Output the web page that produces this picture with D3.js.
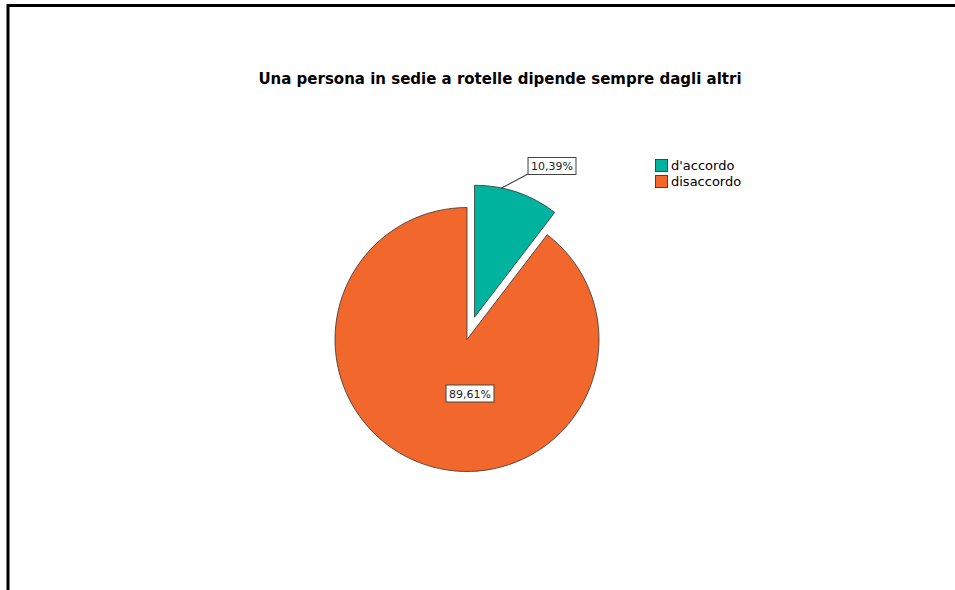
<!DOCTYPE html>
<html><head><meta charset="utf-8">
<script src="https://cdn.jsdelivr.net/npm/d3@7"></script>
<style>body{margin:0;background:#fff}svg{display:block}</style>
</head><body>
<script>
const categories = ["d'accordo", "disaccordo"];
const values = [10.39, 89.61];
const labels = ["10,39%", "89,61%"];
const colors = ["#00b39e", "#f2672b"];
const title = "Una persona in sedie a rotelle dipende sempre dagli altri";

const W = 955, H = 590;
const svg = d3.select("body").append("svg").attr("width", W).attr("height", H);
const font = "DejaVu Sans, Verdana, sans-serif";

// frame
svg.append("path").attr("d", `M8,${H} L8,5.5 L${W},5.5`).attr("fill", "none").attr("stroke", "#000").attr("stroke-width", 3);

svg.append("text").attr("x", 500).attr("y", 84).attr("text-anchor", "middle")
  .attr("font-family", font).attr("font-weight", "bold").attr("font-size", 15)
  .attr("fill", "#000").text(title);

const cx = 467, cy = 339.5, r = 132, explode = 23.5;
const pie = d3.pie().sort(null).value(d => d)(values);
const arc = d3.arc().innerRadius(0).outerRadius(r);
const g = svg.append("g").attr("transform", `translate(${cx},${cy})`);

pie.forEach((p, i) => {
  const mid = (p.startAngle + p.endAngle) / 2;
  const off = i === 0 ? explode : 0;
  const dx = Math.sin(mid) * off, dy = -Math.cos(mid) * off;
  g.append("path").attr("d", arc(p)).attr("transform", `translate(${dx},${dy})`)
    .attr("fill", colors[i]).attr("stroke", "#333").attr("stroke-width", 0.8);
});

// labels
function boxLabel(x, y, t) {
  const lg = svg.append("g");
  const tx = lg.append("text").attr("x", x).attr("y", y + 4).attr("text-anchor", "middle")
    .attr("font-family", font).attr("font-size", 11).attr("fill", "#222").text(t);
  const bb = tx.node().getBBox();
  lg.insert("rect", "text").attr("x", bb.x - 3).attr("y", y - 8.5).attr("width", bb.width + 6).attr("height", 17)
    .attr("fill", "#fff").attr("stroke", "#444").attr("stroke-width", 1);
}
// 10,39% with leader
{
  const p = pie[0];
  const mid = (p.startAngle + p.endAngle) / 2 - 0.12;
  const ox = Math.sin((p.startAngle + p.endAngle) / 2) * explode, oy = -Math.cos((p.startAngle + p.endAngle) / 2) * explode;
  const ax = cx + ox + Math.sin(mid) * r, ay = cy + oy - Math.cos(mid) * r;
  svg.append("line").attr("x1", ax).attr("y1", ay).attr("x2", 528).attr("y2", 174)
    .attr("stroke", "#444").attr("stroke-width", 1.2);
  boxLabel(552, 166, labels[0]);
}
{
  boxLabel(470, 393.5, labels[1]);
}

// legend
const leg = svg.append("g");
categories.forEach((c, i) => {
  const y = 159 + i * 16;
  leg.append("rect").attr("x", 655.5).attr("y", y + 0.5).attr("width", 12).attr("height", 12)
    .attr("fill", colors[i]).attr("stroke", "#444").attr("stroke-width", 1);
  leg.append("text").attr("x", 671).attr("y", y + 11).attr("font-family", font).attr("font-size", 13)
    .attr("fill", "#000").text(c);
});
</script>
</body></html>
